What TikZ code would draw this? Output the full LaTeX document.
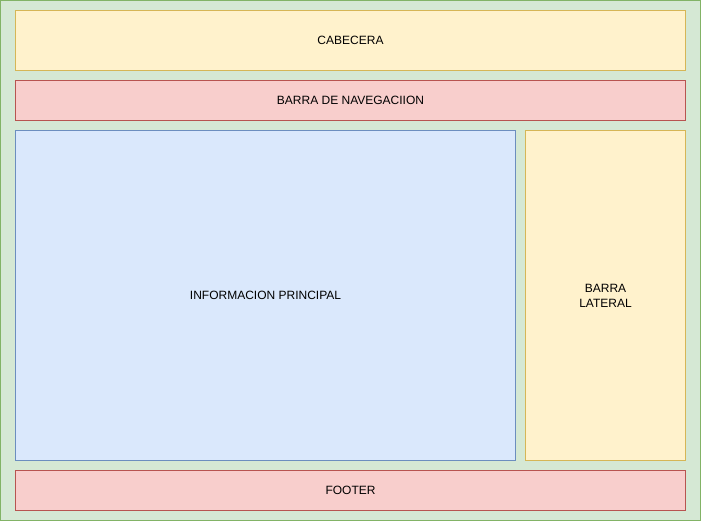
\documentclass[tikz,border=0pt]{standalone}
\usepackage{fontspec}
\setmainfont{Liberation Sans}
\usetikzlibrary{positioning}
\definecolor{wfgreenbg}{HTML}{D5E8D4}
\definecolor{wfgreenln}{HTML}{82B366}
\definecolor{wfyellowbg}{HTML}{FFF2CC}
\definecolor{wfyellowln}{HTML}{D6B656}
\definecolor{wfredbg}{HTML}{F8CECC}
\definecolor{wfredln}{HTML}{B85450}
\definecolor{wfbluebg}{HTML}{DAE8FC}
\definecolor{wfblueln}{HTML}{6C8EBF}

\begin{document}
\begin{tikzpicture}[
  x=1pt, y=-1pt,
  every node/.style={font=\fontsize{12}{15}\selectfont, line width=1pt, align=center, inner sep=0pt},
  block/.style={draw, rectangle, minimum width=#1},
  yellowblock/.style={fill=wfyellowbg, draw=wfyellowln},
  redblock/.style={fill=wfredbg, draw=wfredln},
  blueblock/.style={fill=wfbluebg, draw=wfblueln}
]
\useasboundingbox (0,0) rectangle (701,521);

\node[draw=wfgreenln, fill=wfgreenbg, minimum width=700pt, minimum height=520pt] (page) at (350.5,260.5) {};

\node[block=670pt, yellowblock, minimum height=60pt] (cabecera) at (350.5,40.5) {CABECERA};
\node[block=670pt, redblock, minimum height=40pt] (nav) at (350.5,100.5) {BARRA DE NAVEGACIION};
\node[block=500pt, blueblock, minimum height=330pt] (info) at (265.5,295.5) {INFORMACION PRINCIPAL};
\node[block=160pt, yellowblock, minimum height=330pt] (lateral) at (605.5,295.5) {BARRA\\LATERAL};
\node[block=670pt, redblock, minimum height=40pt] (footer) at (350.5,490.5) {FOOTER};

\end{tikzpicture}
\end{document}
